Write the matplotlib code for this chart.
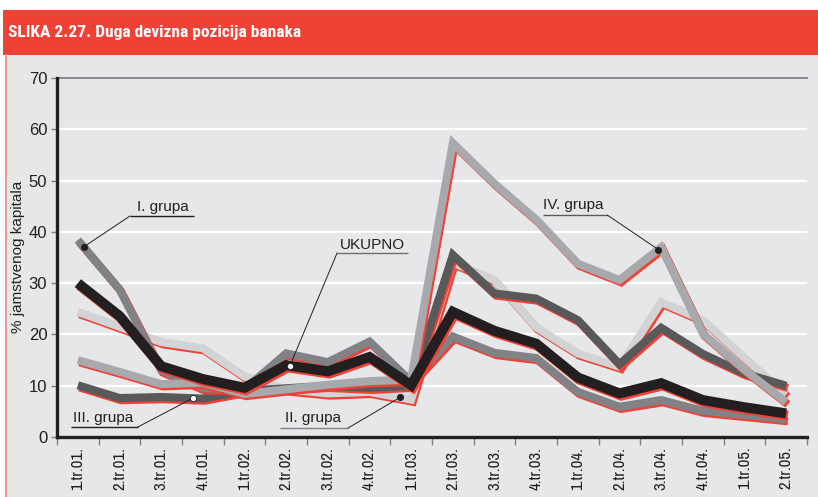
import numpy as np
import matplotlib
matplotlib.use('Agg')
import matplotlib.pyplot as plt
import matplotlib.patheffects as pe
from matplotlib.patches import Rectangle
from matplotlib.lines import Line2D
from matplotlib import font_manager

plt.rcParams['font.family'] = ['Liberation Sans', 'DejaVu Sans']

categories = ['1.tr.01.', '2.tr.01.', '3.tr.01.', '4.tr.01.',
              '1.tr.02.', '2.tr.02.', '3.tr.02.', '4.tr.02.',
              '1.tr.03.', '2.tr.03.', '3.tr.03.', '4.tr.03.',
              '1.tr.04.', '2.tr.04.', '3.tr.04.', '4.tr.04.',
              '1.tr.05.', '2.tr.05.']
grupa_1 = [38.4, 28.8, 13.0, 9.5, 9.3, 16.3, 14.6, 18.6, 10.8, 19.6, 16.4, 15.4, 8.8, 5.9, 7.2, 5.1, 4.3, 3.5]
grupa_2 = [24.4, 21.5, 18.5, 17.3, 11.8, 9.3, 8.5, 8.8, 7.3, 34.0, 30.6, 21.4, 16.3, 13.7, 26.3, 22.8, 15.4, 8.3]
grupa_3 = [10.1, 7.6, 7.8, 7.5, 9.0, 9.5, 10.0, 9.6, 10.0, 35.5, 28.0, 27.0, 22.8, 14.2, 21.3, 16.2, 12.4, 10.0]
grupa_4 = [15.0, 12.7, 10.3, 10.6, 8.4, 9.3, 10.2, 10.9, 11.2, 57.3, 49.4, 42.4, 33.8, 30.6, 37.0, 20.2, 13.1, 6.8]
ukupno = [30.0, 23.6, 13.8, 11.3, 9.6, 14.0, 12.8, 15.6, 10.1, 24.4, 20.7, 18.2, 11.6, 8.5, 10.5, 7.2, 5.8, 4.6]
y_ticks = [0, 10, 20, 30, 40, 50, 60, 70]

title = 'SLIKA 2.27. Duga devizna pozicija banaka'
ylabel = '% jamstvenog kapitala'

RED = '#EF4136'
BG = '#E6E7E8'
DARK = '#231F20'


def _is_narrow(name):
    return ('Narrow' in name or 'Condensed' in name) and 'Mono' not in name and 'Serif' not in name


def _wnum(w):
    if isinstance(w, (int, float)):
        return w
    return {'bold': 700, 'semibold': 600, 'demibold': 600, 'heavy': 800, 'black': 900,
            'extra bold': 800, 'ultrabold': 800}.get(str(w).lower(), 400)


entries = [f for f in font_manager.fontManager.ttflist if _is_narrow(f.name) and f.style == 'normal']
regular_narrow = sorted({f.name for f in entries if _wnum(f.weight) == 400})
bold_narrow = sorted({f.name for f in entries if _wnum(f.weight) >= 700})
NARROW = regular_narrow[0] if regular_narrow else None
BOLD_NARROW = None
for pref in ['Liberation Sans Narrow', 'Roboto Condensed', 'Open Sans Condensed', 'Noto Sans Condensed']:
    if pref in bold_narrow:
        BOLD_NARROW = pref
        break
if BOLD_NARROW is None and bold_narrow:
    BOLD_NARROW = bold_narrow[0]

W, H = 818, 497
fig = plt.figure(figsize=(W / 100, H / 100), dpi=100)
fig.patch.set_facecolor('white')

fig.patches.append(Rectangle((5 / W, 0), 1 - 5 / W, (H - 55) / H, transform=fig.transFigure,
                             facecolor=BG, edgecolor='none', zorder=-10))
fig.patches.append(Rectangle((3 / W, (H - 55) / H), 1 - 3 / W, 45 / H, transform=fig.transFigure,
                             facecolor=RED, edgecolor='none', zorder=-9))
fig.lines.append(Line2D([5.5 / W, 5.5 / W], [0, (H - 55) / H], transform=fig.transFigure,
                        color='#F28A80', lw=1.2, zorder=-8))
if BOLD_NARROW:
    fig.text(8 / W, (H - 32) / H, title, color='white', fontsize=12.5, fontweight='bold',
             family=[BOLD_NARROW, 'Liberation Sans'], ha='left', va='center')
else:
    fig.text(8 / W, (H - 32) / H, title, color='white', fontsize=10.6, fontweight='bold',
             ha='left', va='center')

ax = fig.add_axes([57 / W, (H - 437) / H, 750 / W, (437 - 78) / H])
ax.set_facecolor('none')
ax.set_xlim(-0.5, len(categories) - 0.5)
ax.set_ylim(0, 70)

for yv in y_ticks[1:-1]:
    ax.axhline(yv, color='white', lw=1.6, zorder=0)
ax.axhline(70, color='#808285', lw=1.3, zorder=0, clip_on=False)

x = np.arange(len(categories))
series = [
    (grupa_2, '#D1D3D4', 5.8),
    (grupa_3, '#58595B', 5.8),
    (grupa_1, '#808285', 5.8),
    (grupa_4, '#A7A9AC', 5.8),
    (ukupno, DARK, 7.2),
]
for i, (vals, col, lw) in enumerate(series):
    ax.plot(x, vals, color=col, lw=lw, solid_joinstyle='miter', solid_capstyle='butt',
            zorder=2 + i,
            path_effects=[pe.SimpleLineShadow(offset=(1.2, -1.6), shadow_color=RED, alpha=1.0, rho=1.0),
                          pe.Normal()])

for s in ['top', 'right']:
    ax.spines[s].set_visible(False)
for s in ['left', 'bottom']:
    ax.spines[s].set_linewidth(2.4)
    ax.spines[s].set_color(DARK)
    ax.spines[s].set_zorder(20)

ax.set_yticks(y_ticks)
ax.set_yticklabels([str(v) for v in y_ticks])
ax.tick_params(axis='y', direction='out', length=4, width=1.0, color='#808285',
               labelsize=12, labelcolor=DARK, pad=3)

ax.set_xticks(np.arange(len(categories) + 1) - 0.5)
ax.set_xticklabels([])
ax.tick_params(axis='x', which='major', direction='out', length=5.5, width=1.0, color='#808285')
ax.set_xticks(x, minor=True)
if NARROW:
    ax.set_xticklabels(categories, minor=True, rotation=90, ha='center', va='top',
                       family=[NARROW, 'Liberation Sans'])
    xfs = 12
else:
    ax.set_xticklabels(categories, minor=True, rotation=90, ha='center', va='top')
    xfs = 10
ax.tick_params(axis='x', which='minor', length=0, labelsize=xfs, labelcolor=DARK, pad=7)

fig.text(18 / W, (H - 257) / H, ylabel, rotation=90, fontsize=11, color=DARK,
         ha='center', va='center')


def px2d(px, py):
    return (px - 78) / 41.63, (437 - py) / 5.13


def annotate(label, text_px, ul_px, ul_color, vals, dot_x, dot_face):
    tx, ty = px2d(*text_px)
    ax.text(tx, ty, label, fontsize=11, color=DARK, ha='left', va='baseline', zorder=30)
    (x0, y0), (x1, y1) = px2d(ul_px[0], ul_px[2]), px2d(ul_px[1], ul_px[2])
    ax.plot([x0, x1], [y0, y1], color=ul_color, lw=1.0, zorder=30, solid_capstyle='butt')
    dy = float(np.interp(dot_x, x, vals))
    lx = x0 if ul_px[3] == 'left' else x1
    ax.plot([lx, dot_x], [y0, dy], color=DARK, lw=0.7, zorder=30)
    ax.plot([dot_x], [dy], marker='o', ms=4.5, mfc=dot_face, mec=DARK, mew=0.6, zorder=31)


annotate('I. grupa', (137, 211), (130, 194, 216, 'left'), DARK, grupa_1, 0.14, DARK)
annotate('UKUPNO', (340, 249), (337, 408, 253, 'left'), '#6D6E71', ukupno, 5.09, 'white')
annotate('III. grupa', (73, 422), (71, 138, 427, 'right'), DARK, grupa_3, 2.76, 'white')
annotate('II. grupa', (285, 422), (280, 348, 428, 'right'), '#808285', grupa_2, 7.73, DARK)
annotate('IV. grupa', (543, 209), (543, 607, 215, 'right'), '#58595B', grupa_4, 13.93, DARK)

fig.savefig('out.png', dpi=100, facecolor=fig.get_facecolor())
